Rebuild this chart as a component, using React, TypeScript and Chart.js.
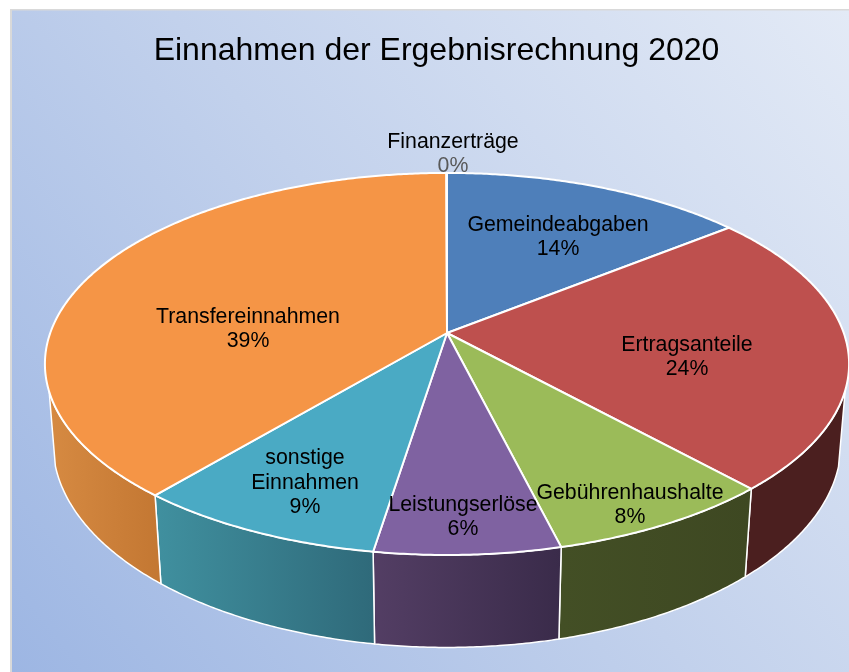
import React, { useEffect, useRef } from "react";
import { Chart, registerables } from "chart.js";

Chart.register(...registerables);

const TITLE = "Einnahmen der Ergebnisrechnung 2020";
const categories = ["Gemeindeabgaben", "Ertragsanteile", "Gebührenhaushalte", "Leistungserlöse", "sonstige Einnahmen", "Transfereinnahmen", "Finanzerträge"];
const labelLines = [["Gemeindeabgaben"], ["Ertragsanteile"], ["Gebührenhaushalte"], ["Leistungserlöse"], ["sonstige", "Einnahmen"], ["Transfereinnahmen"], ["Finanzerträge"]];
const values = [14.3, 23.9, 7.9, 6.4, 8.65, 38.82, 0.03];
const topColors = ["#4e7fba", "#be504e", "#9bbb59", "#7f62a1", "#4aaac4", "#f59546", "#4e7fba"];
const sideStart = ["#3a5f8c", "#4b1f1f", "#434f25", "#533e64", "#40909f", "#d68a42", "#3a5f8c"];
const sideEnd = ["#3a5f8c", "#4b1f1f", "#3e4822", "#3a2b4a", "#2f6a7a", "#c47833", "#3a5f8c"];
// label block centres relative to the pie apex
const labelOffsets = [[111, -96], [240, 24], [183, 172], [16, 184], [-142, 150], [-199, -4], [6, -179]];

const CX = 447;
const CY = 333;
const RADIUS = 402;
const K = 0.162;
const A = 0.987;
const B = 0.4627;
const DEPTH = 77.5;
const SHRINK = 0.98;
// the wall's silhouette runs straight from the top rim at this height to the lower rim at the next
const WALL_TOP_Y = 390;
const WALL_BOTTOM_Y = 465;
const FONT = '"Liberation Sans", Arial, sans-serif';

function project(theta: number, r: number) {
  const u = Math.sin(theta);
  const v = -Math.cos(theta);
  const w = 1 - K * v;
  return { x: CX + (r * A * u) / w, y: CY + (r * B * v) / w, w };
}

function rimPoints(a0: number, a1: number, r: number) {
  const n = Math.max(2, Math.ceil(Math.abs(a1 - a0) * 120));
  const out: { x: number; y: number; w: number }[] = [];
  for (let i = 0; i <= n; i++) out.push(project(a0 + ((a1 - a0) * i) / n, r));
  return out;
}

const pie3d = {
  id: "pie3d",
  beforeDraw(chart: any) {
    const { ctx, width, height } = chart;
    ctx.save();
    ctx.fillStyle = "#ffffff";
    ctx.fillRect(0, 0, width, height);
    const g = ctx.createLinearGradient(12, height, width, 10);
    g.addColorStop(0, "#9db6e3");
    g.addColorStop(0.5, "#c2d1ec");
    g.addColorStop(1, "#e3eaf6");
    ctx.fillStyle = "#d9d9d9";
    ctx.fillRect(10, 9, width - 10, height - 9);
    ctx.fillStyle = g;
    ctx.fillRect(12, 10.5, width - 12, height - 10.5);
    ctx.restore();
  },
  beforeDatasetDraw(chart: any) {
    const { ctx } = chart;
    const arcs = chart.getDatasetMeta(0).data;
    ctx.save();
    ctx.lineJoin = "round";
    // rim
    arcs.forEach((el: any, i: number) => {
      const a0 = el.startAngle + Math.PI / 2;
      const a1 = el.endAngle + Math.PI / 2;
      const all = rimPoints(a0, a1, el.outerRadius);
      const pts = all.filter((p) => p.y >= WALL_TOP_Y);
      const lower = all
        .map((p) => ({ x: CX + (p.x - CX) * SHRINK, y: p.y + DEPTH / p.w }))
        .filter((p) => p.y >= WALL_BOTTOM_Y);
      if (!pts.length || !lower.length) return;
      const xs = pts.map((p) => p.x);
      const g = ctx.createLinearGradient(Math.min(...xs), 0, Math.max(...xs), 0);
      g.addColorStop(0, sideStart[i]);
      g.addColorStop(1, sideEnd[i]);
      ctx.beginPath();
      pts.forEach((p, j) => (j ? ctx.lineTo(p.x, p.y) : ctx.moveTo(p.x, p.y)));
      lower.reverse().forEach((p) => ctx.lineTo(p.x, p.y));
      ctx.closePath();
      ctx.fillStyle = g;
      ctx.fill();
      ctx.strokeStyle = "#ffffff";
      ctx.lineWidth = 1.5;
      ctx.stroke();
    });
    // top face
    arcs.forEach((el: any, i: number) => {
      const a0 = el.startAngle + Math.PI / 2;
      const a1 = el.endAngle + Math.PI / 2;
      const pts = rimPoints(a0, a1, el.outerRadius);
      ctx.beginPath();
      ctx.moveTo(CX, CY);
      pts.forEach((p) => ctx.lineTo(p.x, p.y));
      ctx.closePath();
      ctx.fillStyle = topColors[i];
      ctx.fill();
      ctx.strokeStyle = "#ffffff";
      ctx.lineWidth = 2;
      ctx.stroke();
    });
    ctx.restore();
    return false;
  },
  afterDatasetsDraw(chart: any) {
    const { ctx } = chart;
    const total = values.reduce((s, v) => s + v, 0);
    ctx.save();
    ctx.font = `21.3px ${FONT}`;
    ctx.textAlign = "center";
    ctx.textBaseline = "middle";
    const lineH = 24.5;
    values.forEach((v, i) => {
      const lines = [...labelLines[i], `${Math.round((v / total) * 100)}%`];
      const x = CX + labelOffsets[i][0];
      const y0 = CY + labelOffsets[i][1] - ((lines.length - 1) * lineH) / 2;
      lines.forEach((t, j) => {
        const isZero = v / total < 0.005 && j === lines.length - 1;
        ctx.fillStyle = isZero ? "#595959" : "#000000";
        ctx.fillText(t, x, y0 + j * lineH);
      });
    });
    ctx.restore();
  },
};

export default function App() {
  const ref = useRef<HTMLCanvasElement>(null);
  useEffect(() => {
    const chart = new Chart(ref.current!, {
      type: "pie",
      data: {
        labels: categories,
        datasets: [{ data: values, backgroundColor: topColors, borderColor: "#ffffff", borderWidth: 2, radius: RADIUS }],
      },
      options: {
        responsive: false,
        animation: false,
        layout: { padding: { left: 24 } },
        plugins: {
          legend: { display: false },
          tooltip: { enabled: false },
          title: {
            display: true,
            text: TITLE,
            color: "#000000",
            font: { family: FONT, size: 32, weight: "normal" },
            padding: { top: 32, bottom: 10 },
          },
        },
      },
      plugins: [pie3d],
    } as any);
    return () => chart.destroy();
  }, []);
  return (
    <div style={{ position: "fixed", left: 0, top: 0, width: 849, height: 672 }}>
      <canvas ref={ref} width={849} height={672} style={{ display: "block" }} />
    </div>
  );
}
